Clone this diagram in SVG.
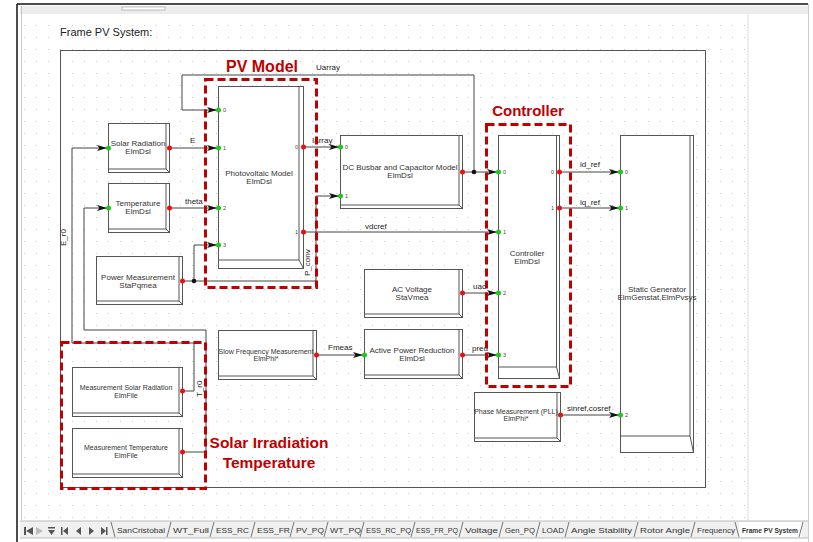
<svg xmlns="http://www.w3.org/2000/svg" width="813" height="542" viewBox="0 0 813 542">
<defs>
<pattern id="grid" width="12" height="12" patternUnits="userSpaceOnUse" x="0" y="1">
<rect x="0" y="0" width="1" height="1" fill="#c8c8c8"/>
</pattern>
<marker id="arr" markerUnits="userSpaceOnUse" markerWidth="11" markerHeight="8" refX="10" refY="4" orient="auto">
<path d="M0,1 L10,4 L0,7 L2.5,4 z" fill="#111"/>
</marker>
<style>
.blk{fill:#fff;stroke:#555;stroke-width:1}
.bev{fill:none;stroke:#555;stroke-width:1}
.t{font-family:"Liberation Sans",Arial,sans-serif;font-size:8px;fill:#333;text-anchor:middle}
.ts{font-family:"Liberation Sans",Arial,sans-serif;font-size:7px;fill:#333;text-anchor:middle}
.pn{font-family:"Liberation Sans",Arial,sans-serif;font-size:5.5px;fill:#444}
.pne{font-family:"Liberation Sans",Arial,sans-serif;font-size:5.5px;fill:#444;text-anchor:end}
.lbl{font-family:"Liberation Sans",Arial,sans-serif;font-size:8px;fill:#222}
.in{fill:#1ec81e}
.out{fill:#e81010}
.w{fill:none;stroke:#444;stroke-width:1}
.wa{fill:none;stroke:#444;stroke-width:1;marker-end:url(#arr)}
.dash{fill:none;stroke:#c00000;stroke-width:3;stroke-dasharray:8 4}
.red{font-family:"Liberation Sans",Arial,sans-serif;font-weight:bold;fill:#c00000}
.tab{font-family:"Liberation Sans",Arial,sans-serif;font-size:8px;fill:#333}
.sep{stroke:#555;stroke-width:0.8;fill:none}
</style>
</defs>

<!-- window / canvas -->
<rect x="0" y="0" width="813" height="542" fill="#fff"/>
<rect x="20" y="6" width="788" height="8" fill="#ececec"/>
<rect x="122" y="7" width="43" height="3" fill="#fff" stroke="#999" stroke-width="0.6"/>
<rect x="22" y="14" width="726" height="506" fill="#fff"/>
<rect x="22" y="14" width="726" height="506" fill="url(#grid)"/>
<line x1="748" y1="14" x2="748" y2="520" stroke="#e0e0e0"/>
<line x1="17" y1="4" x2="808" y2="4" stroke="#111" stroke-width="1.5"/>
<line x1="17" y1="4" x2="17" y2="542" stroke="#111" stroke-width="1.5"/>
<line x1="21.5" y1="6" x2="21.5" y2="520" stroke="#bbb" stroke-width="0.8"/>
<line x1="808.5" y1="4" x2="808.5" y2="542" stroke="#ccc" stroke-width="1"/>

<!-- tab bar -->
<g id="tabbar">
<rect x="20" y="521" width="788" height="17" fill="#f0f0f0"/>
<line x1="20" y1="521" x2="808" y2="521" stroke="#bbb"/>
<line x1="20" y1="538" x2="808" y2="538" stroke="#bbb"/>
<g fill="#555">
<rect x="24" y="527" width="2" height="8"/><path d="M26,531 L33,527 L33,535 z"/>
<path d="M36,527 L43,531 L36,535 z" fill="#bbb"/>
<rect x="48" y="527" width="7" height="1.5"/><path d="M48,530 L55,530 L51.5,535 z"/>
<rect x="61" y="527" width="1.5" height="8"/><path d="M63,531 L68,527 L68,535 z"/>
<path d="M76,531 L81,527 L81,535 z"/>
<path d="M89,527 L94,531 L89,535 z"/>
<path d="M101,527 L106,531 L101,535 z"/><rect x="106" y="527" width="1.5" height="8"/>
</g>
<rect x="739" y="522" width="63" height="15" fill="#fff"/>
<path class="sep" d="M111,522 L115,537 M167,537 L171,522 M210,537 L214,522 M251,537 L255,522 M290,537 L294,522 M324,537 L328,522 M360,537 L364,522 M411,537 L415,522 M459,537 L463,522 M499,537 L503,522 M536,537 L540,522 M565,537 L569,522 M634,537 L638,522 M691,537 L695,522 M735,522 L739,537 M799,537 L803,522"/>
<text class="tab" x="117" y="533" textLength="48" lengthAdjust="spacingAndGlyphs">SanCristobal</text>
<text class="tab" x="173" y="533" textLength="36" lengthAdjust="spacingAndGlyphs">WT_Full</text>
<text class="tab" x="216" y="533" textLength="33" lengthAdjust="spacingAndGlyphs">ESS_RC</text>
<text class="tab" x="257" y="533" textLength="33" lengthAdjust="spacingAndGlyphs">ESS_FR</text>
<text class="tab" x="296" y="533" textLength="28" lengthAdjust="spacingAndGlyphs">PV_PQ</text>
<text class="tab" x="330" y="533" textLength="31" lengthAdjust="spacingAndGlyphs">WT_PQ</text>
<text class="tab" x="366" y="533" textLength="45" lengthAdjust="spacingAndGlyphs">ESS_RC_PQ</text>
<text class="tab" x="416" y="533" textLength="42" lengthAdjust="spacingAndGlyphs">ESS_FR_PQ</text>
<text class="tab" x="465" y="533" textLength="33" lengthAdjust="spacingAndGlyphs">Voltage</text>
<text class="tab" x="505" y="533" textLength="30" lengthAdjust="spacingAndGlyphs">Gen_PQ</text>
<text class="tab" x="542" y="533" textLength="22" lengthAdjust="spacingAndGlyphs">LOAD</text>
<text class="tab" x="571" y="533" textLength="61" lengthAdjust="spacingAndGlyphs">Angle Stability</text>
<text class="tab" x="640" y="533" textLength="50" lengthAdjust="spacingAndGlyphs">Rotor Angle</text>
<text class="tab" x="697" y="533" textLength="38" lengthAdjust="spacingAndGlyphs">Frequency</text>
<text class="tab" x="742" y="533" font-weight="bold" textLength="56" lengthAdjust="spacingAndGlyphs">Frame PV System</text>
</g>

<!-- frame -->
<text x="60" y="36" font-family="Liberation Sans, Arial, sans-serif" font-size="11" fill="#222">Frame PV System:</text>
<rect x="60.5" y="50.5" width="645" height="437" fill="none" stroke="#555" stroke-width="1"/>

<!-- connectors -->
<g id="connectors">
<path class="wa" d="M474,172 V75 H182 V110 H217"/>
<path class="wa" d="M169,148 H217"/>
<path class="wa" d="M169,208 H217"/>
<path class="wa" d="M194,281 V245 H217"/>
<path class="wa" d="M182,281 H316 V196 H339"/>
<path class="wa" d="M303,147 H339"/>
<path class="wa" d="M303,232 H497"/>
<path class="wa" d="M462,172 H497"/>
<path class="wa" d="M559,172 H619"/>
<path class="wa" d="M559,208 H619"/>
<path class="wa" d="M462,293 H497"/>
<path class="wa" d="M462,355 H497"/>
<path class="wa" d="M316,355 H363"/>
<path class="wa" d="M560,415 H619"/>
<path class="wa" d="M182,391 H194 V343 H72 V148 H107"/>
<path class="wa" d="M182,452 H206 V330 H84 V208 H107"/>
<circle cx="474" cy="172" r="2.3" fill="#111"/>
<circle cx="194" cy="281" r="2.3" fill="#111"/>
<text class="lbl" x="316" y="70">Uarray</text>
<text class="lbl" x="190" y="143">E</text>
<text class="lbl" x="185" y="204">theta</text>
<text class="lbl" x="312" y="143">Iarray</text>
<text class="lbl" x="365" y="229">vdcref</text>
<text class="lbl" x="580" y="167">id_ref</text>
<text class="lbl" x="580" y="205">iq_ref</text>
<text class="lbl" x="473" y="289">uac</text>
<text class="lbl" x="472" y="351">pred</text>
<text class="lbl" x="328" y="350">Fmeas</text>
<text class="lbl" x="567" y="411">sinref,cosref</text>
<text class="lbl" transform="translate(66,246) rotate(-90)">E_r0</text>
<text class="lbl" transform="translate(202,397) rotate(-90)">T_r0</text>
<text class="lbl" transform="translate(310,276) rotate(-90)">P_conv</text>
</g>

<!-- nodes -->
<g id="solar-radiation">
<rect class="blk" x="108.5" y="123.5" width="61" height="49"/>
<path class="bev" d="M166,124 V169 H109 M166,169 L169.5,172.5"/>
<text class="t" x="138" y="146" font-size="7.6">Solar Radiation</text>
<text class="t" x="138" y="154">ElmDsl</text>
<circle class="in" cx="108.5" cy="148" r="2.5"/><circle class="out" cx="169.5" cy="148" r="2.5"/>
</g>
<g id="temperature">
<rect class="blk" x="108.5" y="183.5" width="61" height="49"/>
<path class="bev" d="M166,184 V229 H109 M166,229 L169.5,232.5"/>
<text class="t" x="138" y="206">Temperature</text>
<text class="t" x="138" y="214">ElmDsl</text>
<circle class="in" cx="108.5" cy="208" r="2.5"/><circle class="out" cx="169.5" cy="208" r="2.5"/>
</g>
<g id="power-measurement">
<rect class="blk" x="96.5" y="256.5" width="86" height="48"/>
<path class="bev" d="M179,257 V301 H97 M179,301 L182.5,304.5"/>
<text class="t" x="138" y="280">Power Measurement</text>
<text class="t" x="138" y="288">StaPqmea</text>
<circle class="out" cx="182.5" cy="281" r="2.5"/>
</g>
<g id="pv-model">
<rect class="blk" x="218.5" y="86.5" width="85" height="182"/>
<path class="bev" d="M299,87 V260 H219 M299,260 L303.5,268.5"/>
<text class="t" x="259" y="176">Photovoltaic Model</text>
<text class="t" x="259" y="184">ElmDsl</text>
<circle class="in" cx="218.5" cy="110" r="2.5"/><text class="pn" x="223" y="112">0</text>
<circle class="in" cx="218.5" cy="148" r="2.5"/><text class="pn" x="223" y="150">1</text>
<circle class="in" cx="218.5" cy="208" r="2.5"/><text class="pn" x="223" y="210">2</text>
<circle class="in" cx="218.5" cy="245" r="2.5"/><text class="pn" x="223" y="247">3</text>
<circle class="out" cx="303.5" cy="147" r="2.5"/><text class="pne" x="298" y="149">0</text>
<circle class="out" cx="303.5" cy="232" r="2.5"/><text class="pne" x="298" y="234">1</text>
</g>
<g id="dc-busbar">
<rect class="blk" x="340.5" y="135.5" width="122" height="73"/>
<path class="bev" d="M459,136 V205 H341 M459,205 L462.5,208.5"/>
<text class="t" x="400" y="170">DC Busbar and Capacitor Model</text>
<text class="t" x="400" y="178">ElmDsl</text>
<circle class="in" cx="340.5" cy="147" r="2.5"/><text class="pn" x="345" y="149">0</text>
<circle class="in" cx="340.5" cy="196" r="2.5"/><text class="pn" x="345" y="198">1</text>
<circle class="out" cx="462.5" cy="172" r="2.5"/>
</g>
<g id="controller">
<rect class="blk" x="498.5" y="135.5" width="61" height="243"/>
<path class="bev" d="M556.5,136 V367 H499 M556.5,367 L559.5,378.5"/>
<text class="t" x="527" y="256">Controller</text>
<text class="t" x="527" y="264">ElmDsl</text>
<circle class="in" cx="498.5" cy="172" r="2.5"/><text class="pn" x="503" y="174">0</text>
<circle class="in" cx="498.5" cy="232" r="2.5"/><text class="pn" x="503" y="234">1</text>
<circle class="in" cx="498.5" cy="293" r="2.5"/><text class="pn" x="503" y="295">2</text>
<circle class="in" cx="498.5" cy="355" r="2.5"/><text class="pn" x="503" y="357">3</text>
<circle class="out" cx="559.5" cy="172" r="2.5"/><text class="pne" x="554" y="174">0</text>
<circle class="out" cx="559.5" cy="208" r="2.5"/><text class="pne" x="554" y="210">1</text>
</g>
<g id="static-generator">
<rect class="blk" x="620.5" y="135.5" width="73" height="317"/>
<path class="bev" d="M690,136 V436 H621 M690,436 L693.5,452.5"/>
<text class="t" x="657" y="292">Static Generator</text>
<text class="t" x="657" y="300">ElmGenstat,ElmPvsys</text>
<circle class="in" cx="620.5" cy="172" r="2.5"/><text class="pn" x="625" y="174">0</text>
<circle class="in" cx="620.5" cy="208" r="2.5"/><text class="pn" x="625" y="210">1</text>
<circle class="in" cx="620.5" cy="415" r="2.5"/><text class="pn" x="625" y="417">2</text>
</g>
<g id="ac-voltage">
<rect class="blk" x="364.5" y="269.5" width="98" height="48"/>
<path class="bev" d="M459,270 V314 H365 M459,314 L462.5,317.5"/>
<text class="t" x="412" y="292">AC Voltage</text>
<text class="t" x="412" y="300">StaVmea</text>
<circle class="out" cx="462.5" cy="293" r="2.5"/>
</g>
<g id="active-power-reduction">
<rect class="blk" x="364.5" y="329.5" width="98" height="49"/>
<path class="bev" d="M459,330 V375 H365 M459,375 L462.5,378.5"/>
<text class="t" x="412" y="353">Active Power Reduction</text>
<text class="t" x="412" y="361">ElmDsl</text>
<circle class="in" cx="364.5" cy="355" r="2.5"/>
<circle class="out" cx="462.5" cy="355" r="2.5"/>
</g>
<g id="slow-frequency-measurement">
<rect class="blk" x="218.5" y="330.5" width="98" height="49"/>
<path class="bev" d="M313,331 V376 H219 M313,376 L316.5,379.5"/>
<text class="ts" x="266" y="354">Slow Frequency Measurement</text>
<text class="ts" x="266" y="361">ElmPhi*</text>
<circle class="out" cx="316.5" cy="355" r="2.5"/>
</g>
<g id="phase-measurement">
<rect class="blk" x="474.5" y="392.5" width="86" height="49"/>
<path class="bev" d="M557,393 V438 H475 M557,438 L560.5,441.5"/>
<text class="ts" x="516" y="414">Phase Measurement (PLL)</text>
<text class="ts" x="516" y="421">ElmPhi*</text>
<circle class="out" cx="560.5" cy="415" r="2.5"/>
</g>
<g id="measurement-solar-radiation">
<rect class="blk" x="72.5" y="367.5" width="110" height="49"/>
<path class="bev" d="M179,368 V413 H73 M179,413 L182.5,416.5"/>
<text class="ts" x="126" y="390">Measurement Solar Radiation</text>
<text class="ts" x="126" y="398">ElmFile</text>
<circle class="out" cx="182.5" cy="391" r="2.5"/>
</g>
<g id="measurement-temperature">
<rect class="blk" x="72.5" y="428.5" width="110" height="49"/>
<path class="bev" d="M179,429 V474 H73 M179,474 L182.5,477.5"/>
<text class="ts" x="126" y="450">Measurement Temperature</text>
<text class="ts" x="126" y="458">ElmFile</text>
<circle class="out" cx="182.5" cy="452" r="2.5"/>
</g>

<!-- highlight groups -->
<g id="highlights">
<rect class="dash" x="205.5" y="79.5" width="111" height="208"/>
<rect class="dash" x="486.5" y="124.5" width="84" height="262"/>
<rect class="dash" x="61.5" y="342.5" width="144" height="146"/>
<text class="red" x="262" y="72" font-size="16" text-anchor="middle">PV Model</text>
<text class="red" x="528" y="116" font-size="15" text-anchor="middle">Controller</text>
<text class="red" x="269" y="448" font-size="15.5" text-anchor="middle">Solar Irradiation</text>
<text class="red" x="269" y="468" font-size="15.5" text-anchor="middle">Temperature</text>
</g>
</svg>
